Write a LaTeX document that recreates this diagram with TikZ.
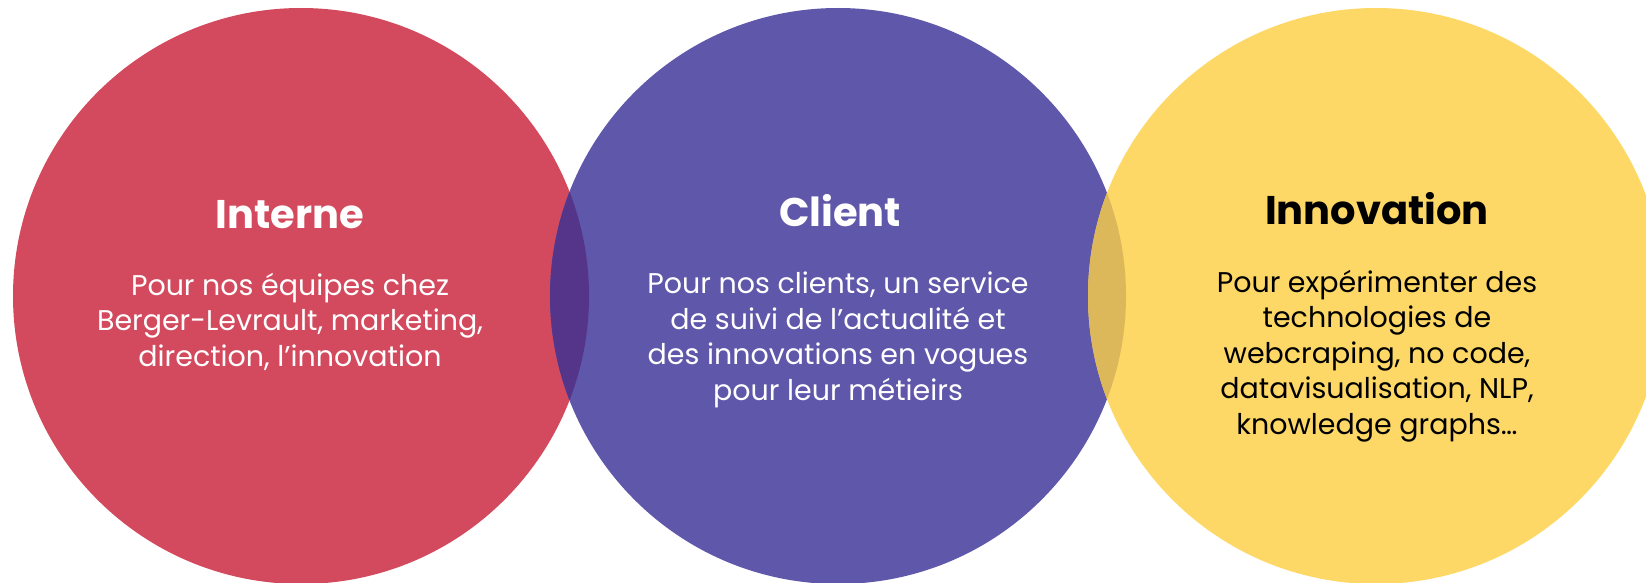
\documentclass[tikz,border=0pt]{standalone}
\usepackage{fontspec}
\setmainfont{Poppins}
\definecolor{cred}{HTML}{D34A5E}
\definecolor{cblue}{HTML}{5F58AA}
\definecolor{cyellow}{HTML}{FDD866}
\definecolor{crb}{HTML}{55358A}
\definecolor{cby}{HTML}{DDB85A}
\begin{document}
\begin{tikzpicture}[x=1pt,y=-1pt,
  titletext/.style={font=\bfseries\fontsize{40}{48}\selectfont, anchor=base, inner sep=0pt},
  bodytext/.style={font=\fontsize{28.5}{35.5}\selectfont, align=center, anchor=base, inner sep=0pt}]
\useasboundingbox (0,0) rectangle (1646,583);
\begin{scope}
  \clip (0,0) rectangle (1646,583);
  \fill[cred] (301,296) circle[radius=288pt];
  \fill[cblue] (838,296) circle[radius=288pt];
  \fill[cyellow] (1376,296) circle[radius=288pt];
  \begin{scope}
    \clip (301,296) circle[radius=288pt];
    \fill[crb] (838,296) circle[radius=288pt];
  \end{scope}
  \begin{scope}
    \clip (838,296) circle[radius=288pt];
    \fill[cby] (1376,296) circle[radius=288pt];
  \end{scope}
\end{scope}
\node[titletext, text=white] (t1) at (290,228) {Interne};
\node[titletext, text=white] (t2) at (840,226) {Client};
\node[titletext, text=black] (t3) at (1377,224) {Innovation};
\node[bodytext, text=white] (b1) at (290,366) {Pour nos équipes chez\\Berger-Levrault, marketing,\\direction, l’innovation};
\node[bodytext, text=white] (b2) at (838,400) {Pour nos clients, un service\\de suivi de l’actualité et\\des innovations en vogues\\pour leur métieirs};
\node[bodytext, text=black] (b3) at (1377,434) {Pour expérimenter des\\technologies de\\webcraping, no code,\\datavisualisation, NLP,\\knowledge graphs…};
\end{tikzpicture}
\end{document}
